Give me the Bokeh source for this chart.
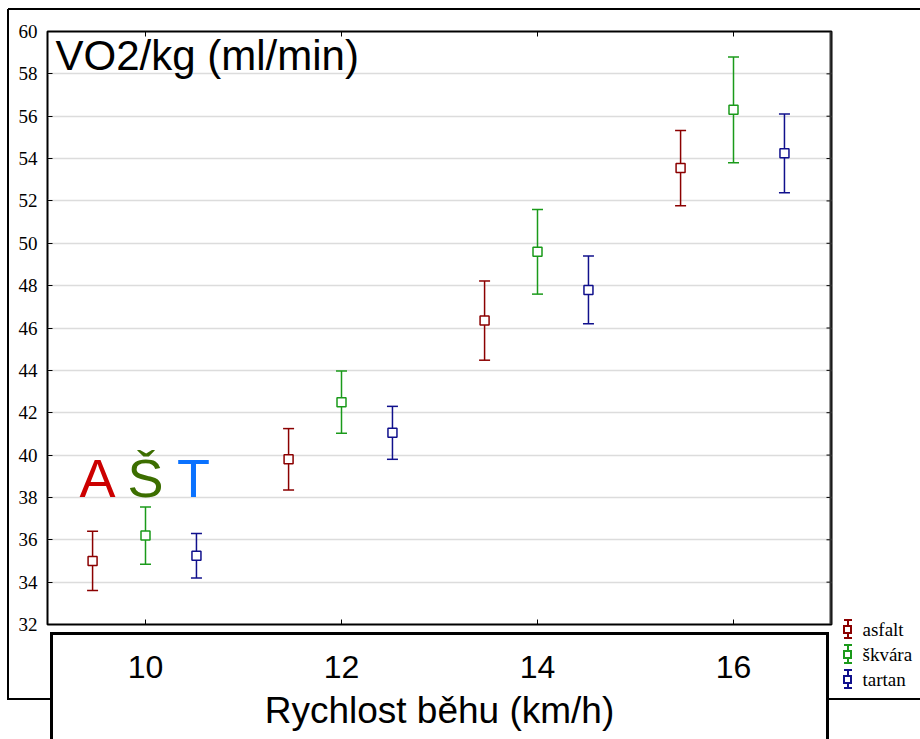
from bokeh.plotting import figure
from bokeh.models import (ColumnDataSource, Whisker, TeeHead, FixedTicker, Label, Range1d,
                          LinearAxis)
from bokeh.embed import file_html
from bokeh.resources import INLINE

# ---- data ----
speeds = [10, 12, 14, 16]
asfalt_mean = [35.0, 39.8, 46.35, 53.55]
asfalt_err = [1.4, 1.45, 1.87, 1.78]
skvara_mean = [36.2, 42.5, 49.6, 56.3]
skvara_err = [1.35, 1.47, 2.0, 2.5]
tartan_mean = [35.25, 41.05, 47.8, 54.25]
tartan_err = [1.05, 1.25, 1.6, 1.86]
series_names = ["asfalt", "škvára", "tartan"]
series_colors = ["#8b0000", "#1a9a1a", "#10108c"]
x_ticks = [10, 12, 14, 16]
y_ticks = list(range(32, 61, 2))
surface_letters = ["A", "Š", "T"]
letter_colors = ["#cc0000", "#3c6e00", "#0a72ff"]

# ---- geometry (page pixels) ----
X0, X1 = 9, 17
Y0, Y1 = 32, 60
W, H = 920, 739
FL, FT, FW, FH = 47, 31, 784, 593


def dx(px):
    return X0 + (px - FL) / FW * (X1 - X0)


def dy(py):
    return Y1 - (py - FT) / FH * (Y1 - Y0)


p = figure(width=W, height=H, x_range=Range1d(X0, X1), y_range=Range1d(Y0, Y1),
           output_backend="svg", toolbar_location=None,
           min_border_left=FL, min_border_top=FT,
           min_border_right=W - FL - FW, min_border_bottom=H - FT - FH,
           x_axis_label="Rychlost běhu (km/h)")
p.background_fill_color = "white"
p.border_fill_color = None
p.outline_line_color = "black"
p.outline_line_width = 2

p.xgrid.visible = False
p.ygrid.ticker = FixedTicker(ticks=y_ticks)
p.ygrid.grid_line_color = "#dcdcdc"
p.ygrid.grid_line_width = 1.5

xa = p.xaxis[0]
xa.ticker = FixedTicker(ticks=x_ticks)
xa.major_tick_in = 5
xa.major_tick_out = 0
xa.minor_tick_line_color = None
xa.axis_line_color = "black"
xa.major_label_text_font = "Liberation Sans"
xa.major_label_text_font_size = "32px"
xa.major_label_text_color = "black"
xa.major_label_standoff = 31
xa.axis_label_text_font = "Liberation Sans"
xa.axis_label_text_font_size = "37px"
xa.axis_label_text_font_style = "normal"
xa.axis_label_text_color = "black"
xa.axis_label_standoff = 9

ya = p.yaxis[0]
ya.ticker = FixedTicker(ticks=y_ticks)
ya.major_tick_in = 5
ya.major_tick_out = 0
ya.minor_tick_line_color = None
ya.axis_line_color = "black"
ya.major_label_text_font = "Liberation Serif"
ya.major_label_text_font_size = "19px"
ya.major_label_text_color = "black"
ya.major_label_standoff = 10

# inward tick marks on the top and right frame edges
tick_dy = 5 * (Y1 - Y0) / FH
tick_dx = 5 * (X1 - X0) / FW
p.segment(x0=x_ticks, y0=[Y1] * len(x_ticks), x1=x_ticks, y1=[Y1 - tick_dy] * len(x_ticks),
          line_color="black", line_width=1)
p.segment(x0=[X1] * len(y_ticks), y0=y_ticks, x1=[X1 - tick_dx] * len(y_ticks), y1=y_ticks,
          line_color="black", line_width=1)
p.segment(x0=[X1], y0=[Y0], x1=[X1], y1=[Y1], line_color="#333333", line_width=4)

# ---- series ----
offsets = [-0.54, 0.0, 0.52]
means = [asfalt_mean, skvara_mean, tartan_mean]
errs = [asfalt_err, skvara_err, tartan_err]
for off, m, e, color in zip(offsets, means, errs, series_colors):
    src = ColumnDataSource(dict(
        x=[s + off for s in speeds], y=m,
        lo=[a - b for a, b in zip(m, e)], hi=[a + b for a, b in zip(m, e)]))
    p.add_layout(Whisker(source=src, base="x", lower="lo", upper="hi",
                         line_color=color, line_width=1.5, level="underlay",
                         lower_head=TeeHead(size=11, line_color=color, line_width=1.5),
                         upper_head=TeeHead(size=11, line_color=color, line_width=1.5)))
    p.scatter("x", "y", source=src, marker="square", size=9, fill_color="white",
              line_color=color, line_width=1.5)

# ---- in-plot texts ----
p.add_layout(Label(x=dx(55), y=dy(55), text="VO2/kg (ml/min)", text_font="Liberation Sans",
                   text_font_size="42px", text_baseline="alphabetic", text_color="black"))
for px, letter, color in zip([97, 145, 193], surface_letters, letter_colors):
    p.add_layout(Label(x=dx(px), y=dy(477), text=letter, text_font="Liberation Sans",
                       text_font_size="54px", text_align="center", text_baseline="alphabetic",
                       text_color=color))

# ---- legend labels: a right-hand axis with one multi-line tick label ----
rows_px = [629 + 25 * i for i in range(len(series_names))]
legend_tick = round(dy(616.4), 4)
leg_axis = LinearAxis(
    ticker=FixedTicker(ticks=[legend_tick], minor_ticks=[]),
    major_label_overrides={legend_tick: "\n\n\n" + "\n".join(series_names)},
    axis_line_color=None, major_tick_line_color=None, minor_tick_line_color=None,
    major_tick_in=0, major_tick_out=0, major_label_standoff=31,
    major_label_text_font="Liberation Serif", major_label_text_font_size="19px",
    major_label_text_color="black", major_label_text_line_height=1.2)
p.add_layout(leg_axis, "right")

# ---- decorative frames and legend error-bar glyphs drawn as CSS backgrounds ----
deco = [
    (8, 8, 912, 2, "#000"),
    (7, 9, 2, 690, "#000"),
    (7, 698, 45, 2, "#000"),
    (827, 698, 93, 2, "#000"),
    (50, 632, 779, 3, "#000"),
    (50, 632, 3, 107, "#000"),
    (826, 632, 3, 107, "#000"),
]
for r, c in zip(rows_px, series_colors):
    deco += [
        (846.5, r - 9, 2, 5, c), (846.5, r + 4, 2, 5, c),       # error bar stem
        (843.5, r - 10, 8, 2, c), (843.5, r + 8, 8, 2, c),      # caps
        (843, r - 4, 9, 2, c), (843, r + 3, 9, 2, c),           # square
        (843, r - 4, 2, 9, c), (850, r - 4, 2, 9, c),
    ]
p.styles = {
    "background-image": ", ".join(f"linear-gradient({c}, {c})" for (*_, c) in deco),
    "background-size": ", ".join(f"{w}px {h}px" for (_, _, w, h, _) in deco),
    "background-position": ", ".join(f"{x}px {y}px" for (x, y, _, _, _) in deco),
    "background-repeat": "no-repeat",
}

open("out.html", "w").write(file_html(p, INLINE))
